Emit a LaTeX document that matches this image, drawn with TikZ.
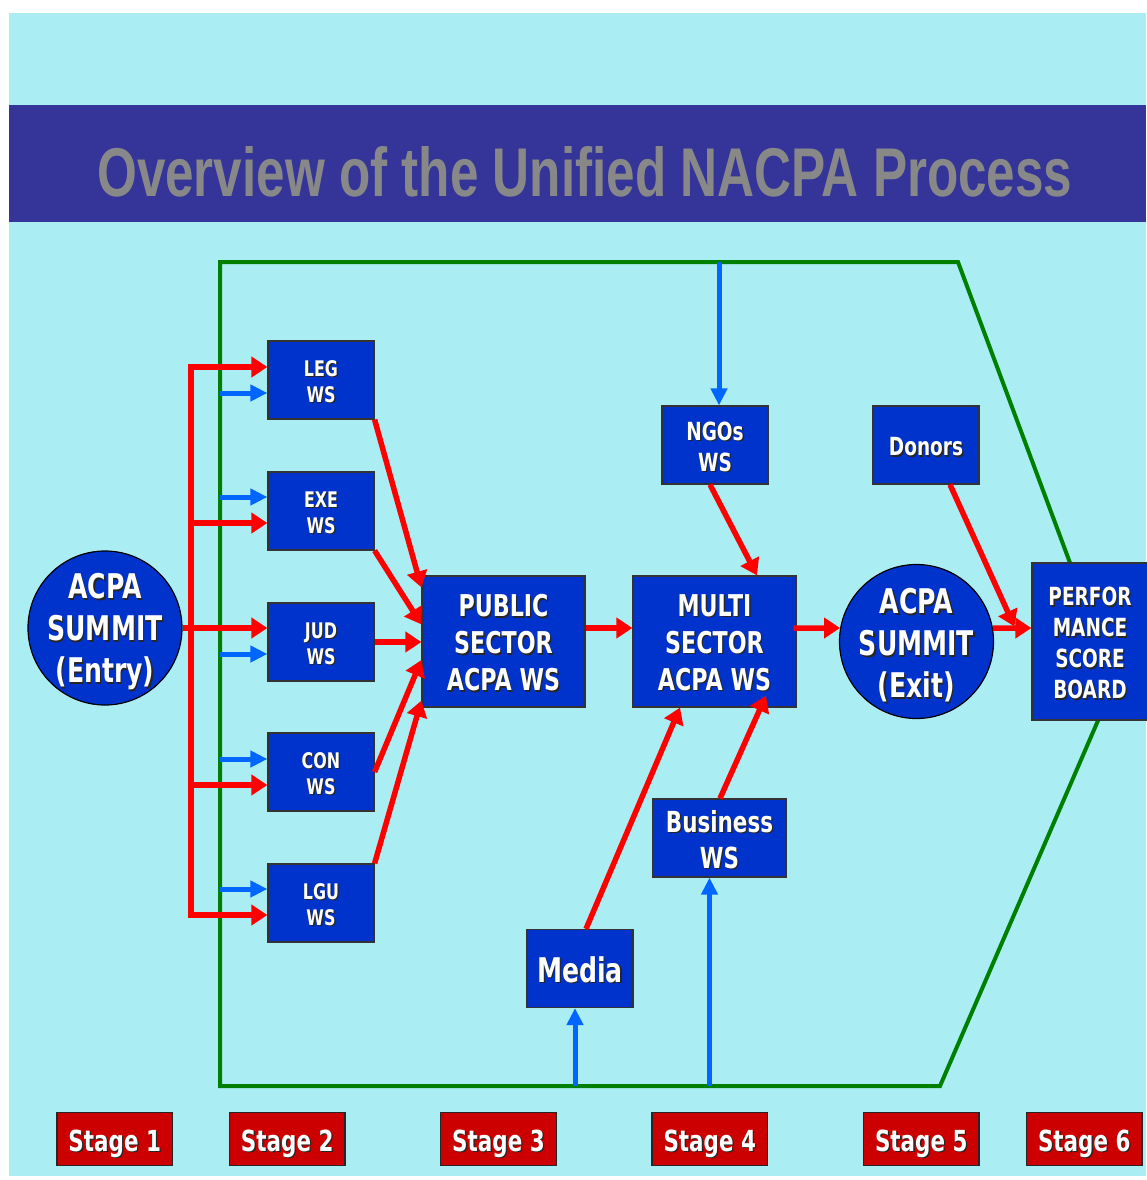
\documentclass[tikz,border=0pt]{standalone}
\usepackage{fontspec}
\usetikzlibrary{arrows.meta,calc}
\newfontfamily\boxfont{DejaVu Sans}[FakeStretch=0.74]
\newfontfamily\titlefont{Liberation Sans}
\definecolor{bgcyan}{HTML}{AAEEF4}
\definecolor{bandblue}{HTML}{353599}
\definecolor{boxblue}{HTML}{0033CC}
\definecolor{arrred}{HTML}{FF0000}
\definecolor{arrblue}{HTML}{0066FF}
\definecolor{framegreen}{HTML}{008000}
\definecolor{stagered}{HTML}{CC0000}
\definecolor{titlegray}{HTML}{888888}
\newlength\txtdrop
\newcommand\shd[1]{\leavevmode\raisebox{-\txtdrop}[\height][\depth]{\rlap{\kern1.3pt\raisebox{-1.3pt}{\textcolor{black!85}{#1}}}#1}}
\newcommand\fntS{\boxfont\bfseries\fontsize{21.5}{26}\selectfont\setlength\txtdrop{2.5pt}}
\newcommand\fntM{\boxfont\bfseries\fontsize{25}{31}\selectfont\setlength\txtdrop{2.5pt}}
\newcommand\fntL{\boxfont\bfseries\fontsize{30}{37}\selectfont\setlength\txtdrop{2pt}}
\newcommand\fntB{\boxfont\bfseries\fontsize{29}{36}\selectfont\setlength\txtdrop{2pt}}
\newcommand\fntX{\boxfont\bfseries\fontsize{34}{42}\selectfont\setlength\txtdrop{2pt}}
\newcommand\fntC{\boxfont\bfseries\fontsize{34}{42}\selectfont\setlength\txtdrop{4.5pt}}
\newcommand\fntT{\boxfont\bfseries\fontsize{29}{34}\selectfont\setlength\txtdrop{0pt}}
\tikzset{
  wsbox/.style={draw=black!80, line width=1.2pt, fill=boxblue, text=white, inner sep=0pt, align=center},
  circbox/.style={circle, draw=black, line width=1.2pt, fill=boxblue, inner sep=0pt, minimum size=154pt},
  circtext/.style={text=white, align=center, font=\fntC, inner sep=0pt},
  stagebox/.style={draw=black!85, line width=1.2pt, fill=stagered, text=white, inner sep=0pt, minimum width=115.5pt, minimum height=53.5pt, text height=25pt, text depth=0pt, font=\fntT},
  rarrow/.style={draw=arrred, line width=5.5pt, -{Triangle[length=16pt,width=20pt]}},
  barrow/.style={draw=arrblue, line width=5pt, -{Triangle[length=17pt,width=16pt]}},
  rline/.style={draw=arrred, line width=5.5pt, line cap=rect},
  gframe/.style={draw=framegreen, line width=4pt, line join=miter},
}
\begin{document}
\begin{tikzpicture}[x=1pt,y=-1pt]
\useasboundingbox (0,0) rectangle (1146,1180);
\fill[white] (0,0) rectangle (1146,1180);
\fill[bgcyan] (9,13) rectangle (1146,1176);
\fill[bandblue] (9,105) rectangle (1146,222);
\node[anchor=base west, inner sep=0pt, text=titlegray] (title) at (97,196)
  {\resizebox{975pt}{50pt}{\titlefont\bfseries Overview of the Unified NACPA Process}};

% green frame
\draw[gframe] (220,262) -- (958,262) -- (1114.5,682.4) -- (940,1086) -- (220,1086) -- cycle;

% nodes
\node[circbox, label={[circtext]center:{\shd{ACPA}\\\shd{SUMMIT}\\\shd{(Entry)}}}] (entry) at (105,628) {};
\node[wsbox, minimum width=106pt, minimum height=78pt, font=\fntS] (leg) at (321,380) {\shd{LEG}\\\shd{WS}};
\node[wsbox, minimum width=106pt, minimum height=78pt, font=\fntS] (exe) at (321,511) {\shd{EXE}\\\shd{WS}};
\node[wsbox, minimum width=106pt, minimum height=78pt, font=\fntS] (jud) at (321,642) {\shd{JUD}\\\shd{WS}};
\node[wsbox, minimum width=106pt, minimum height=78pt, font=\fntS] (con) at (321,772) {\shd{CON}\\\shd{WS}};
\node[wsbox, minimum width=106pt, minimum height=78pt, font=\fntS] (lgu) at (321,903) {\shd{LGU}\\\shd{WS}};
\node[wsbox, minimum width=163pt, minimum height=131pt, font=\fntL] (pub) at (503.5,641.5) {\shd{PUBLIC}\\\shd{SECTOR}\\\shd{ACPA WS}};
\node[wsbox, minimum width=163pt, minimum height=131pt, font=\fntL] (multi) at (714.5,641.5) {\shd{MULTI}\\\shd{SECTOR}\\\shd{ACPA WS}};
\node[wsbox, minimum width=106pt, minimum height=78pt, font=\fntM] (ngo) at (715,445) {\shd{NGOs}\\\shd{WS}};
\node[wsbox, minimum width=106pt, minimum height=78pt, font=\fntM] (don) at (926,445) {\shd{Donors}};
\node[circbox, label={[circtext]center:{\shd{ACPA}\\\shd{SUMMIT}\\\shd{(Exit)}}}] (exit) at (916.5,641.5) {};
\node[wsbox, minimum width=116pt, minimum height=157pt, font=\fntM] (perf) at (1090,641.5) {\shd{PERFOR}\\\shd{MANCE}\\\shd{SCORE}\\\shd{BOARD}};
\node[wsbox, minimum width=134pt, minimum height=78pt, font=\fntB] (bus) at (719.5,838) {\shd{Business}\\\shd{WS}};
\node[wsbox, minimum width=106pt, minimum height=78pt, font=\fntX] (med) at (580,968.5) {\shd{Media}};

% stage labels
\node[stagebox] (s1) at (114.75,1139) {\shd{Stage 1}};
\node[stagebox] (s2) at (287.25,1139) {\shd{Stage 2}};
\node[stagebox] (s3) at (498.5,1139) {\shd{Stage 3}};
\node[stagebox] (s4) at (709.75,1139) {\shd{Stage 4}};
\node[stagebox] (s5) at (921.25,1139) {\shd{Stage 5}};
\node[stagebox] (s6) at (1084.25,1139) {\shd{Stage 6}};

% red trunk from entry summit
\coordinate (t1) at (191,367);
\coordinate (t2) at (191,523);
\coordinate (t4) at (191,785);
\coordinate (t5) at (191,915);
\draw[rline] (t1) -- (t5);
\draw[rarrow] (entry.east) -- ([yshift=14pt]jud.west);
\draw[rarrow] (t1) -- ([yshift=13pt]leg.west);
\draw[rarrow] (t2) -- ([yshift=-12pt]exe.west);
\draw[rarrow] (t4) -- ([yshift=-13pt]con.west);
\draw[rarrow] (t5) -- ([yshift=-12pt]lgu.west);

% blue inputs from the frame
\coordinate (b1) at (220,393);
\coordinate (b2) at (220,497);
\coordinate (b3) at (220,654);
\coordinate (b4) at (220,759);
\coordinate (b5) at (220,889);
\draw[barrow] (b1) -- ([yshift=-13pt]leg.west);
\draw[barrow] (b2) -- ([yshift=14pt]exe.west);
\draw[barrow] (b3) -- ([yshift=-12pt]jud.west);
\draw[barrow] (b4) -- ([yshift=13pt]con.west);
\draw[barrow] (b5) -- ([yshift=14pt]lgu.west);

% workshops to public sector
\draw[rarrow] (leg.south east) -- ([yshift=-12pt]pub.north west);
\draw[rarrow] (exe.south east) -- ([yshift=-49pt]pub.north west);
\draw[rarrow] (jud.east) -- (jud.east -| pub.west);
\draw[rarrow] (con.east) -- ([yshift=-18.5pt]pub.west);
\draw[rarrow] (lgu.north east) -- ([yshift=7pt]pub.south west);

% main chain
\draw[rarrow] ([yshift=13.5pt]pub.east) -- ([yshift=13.5pt]multi.west);
\draw[rarrow] ([xshift=-3pt,yshift=13.5pt]multi.east) -- (exit.170);
\draw[rarrow] (exit.10) -- ([yshift=13.5pt]perf.west);

% side inputs
\coordinate (topin) at (719,262);
\draw[barrow] (topin) -- ([xshift=4pt]ngo.north);
\draw[rarrow] ([xshift=-5pt]ngo.south) -- ([xshift=42.5pt]multi.north);
\draw[rarrow] ([xshift=24pt]don.south) -- ([xshift=-17pt,yshift=15pt]perf.west);
\draw[rarrow] ([xshift=6pt]med.north) -- ([xshift=-34.5pt]multi.south);
\draw[rarrow] ([xshift=0.5pt]bus.north) -- ([xshift=51.5pt,yshift=12pt]multi.south);
\coordinate (medin) at (575,1086);
\coordinate (busin) at (709.5,1086);
\draw[barrow] (medin) -- ([xshift=-5pt]med.south);
\draw[barrow] (busin) -- ([xshift=-10pt]bus.south);
\end{tikzpicture}
\end{document}
